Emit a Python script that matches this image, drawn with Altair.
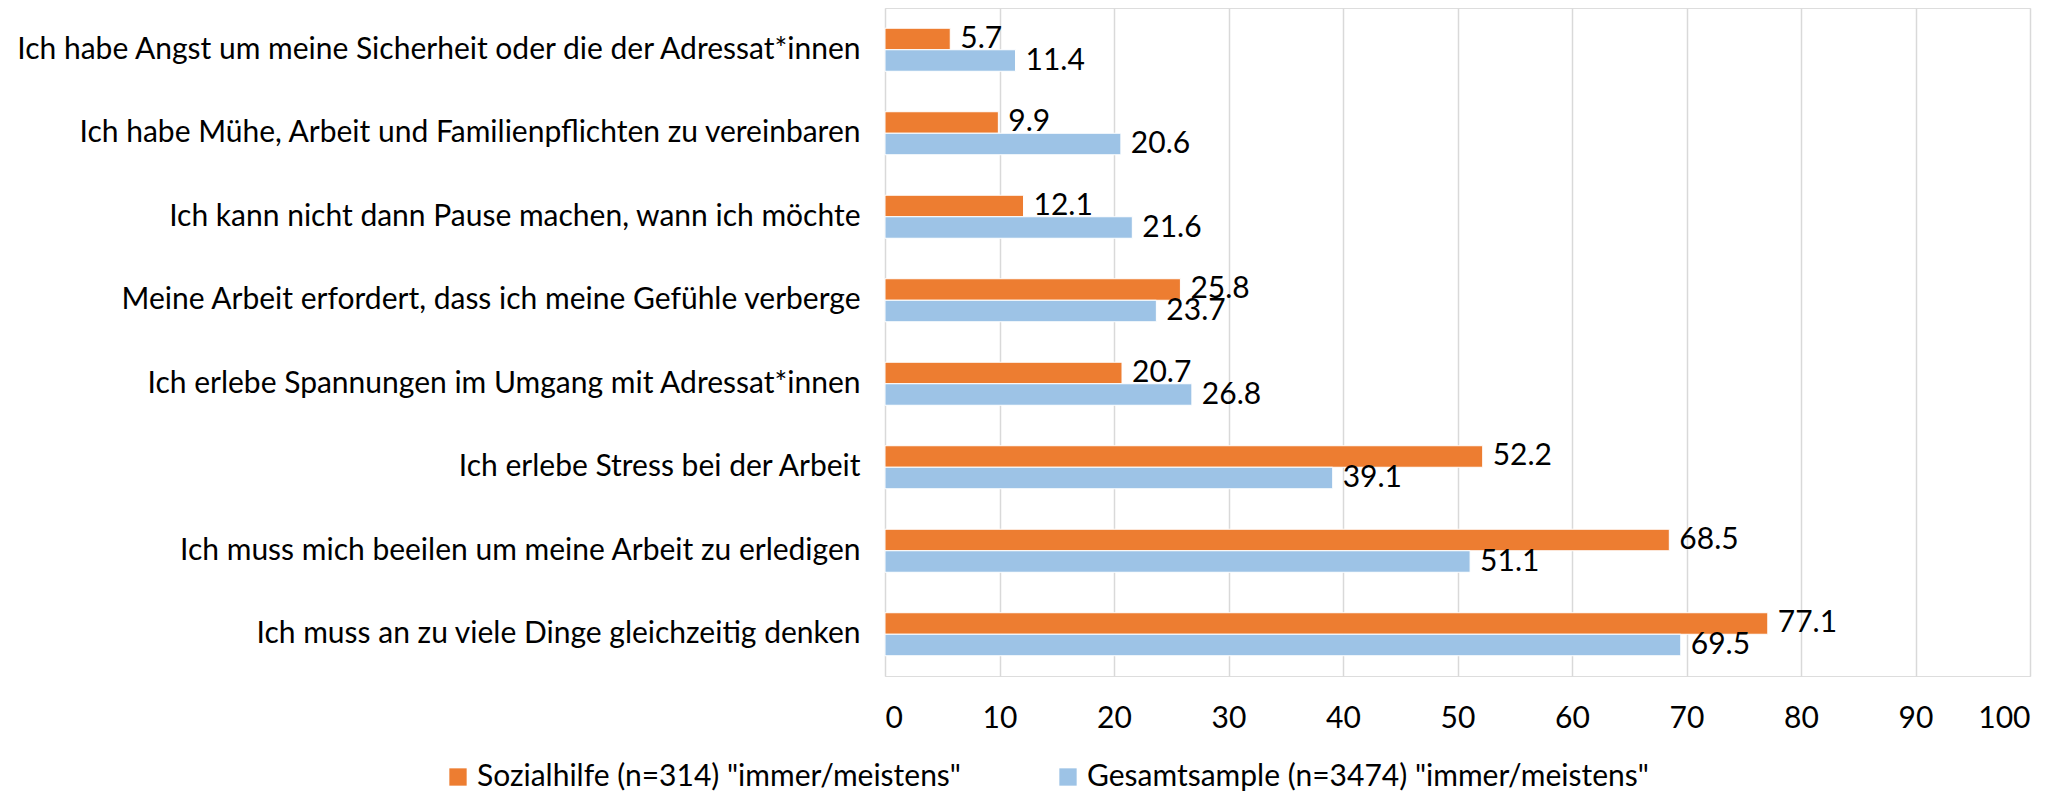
import altair as alt
import pandas as pd

categories = [
    "Ich habe Angst um meine Sicherheit oder die der Adressat*innen",
    "Ich habe Mühe, Arbeit und Familienpflichten zu vereinbaren",
    "Ich kann nicht dann Pause machen, wann ich möchte",
    "Meine Arbeit erfordert, dass ich meine Gefühle verberge",
    "Ich erlebe Spannungen im Umgang mit Adressat*innen ",
    "Ich erlebe Stress bei der Arbeit",
    "Ich muss mich beeilen um meine Arbeit zu erledigen",
    "Ich muss an zu viele Dinge gleichzeitig denken",
]
series_names = [
    'Sozialhilfe (n=314) "immer/meistens"',
    'Gesamtsample (n=3474) "immer/meistens"',
]
sozialhilfe = [5.7, 9.9, 12.1, 25.8, 20.7, 52.2, 68.5, 77.1]
gesamt = [11.4, 20.6, 21.6, 23.7, 26.8, 39.1, 51.1, 69.5]
colors = ["#ED7D31", "#9DC3E6"]
x_ticks = [0, 10, 20, 30, 40, 50, 60, 70, 80, 90, 100]

rows = []
for c, a, b in zip(categories, sozialhilfe, gesamt):
    rows.append({"cat": c, "series": series_names[0], "value": a, "label": f"{a:.1f}"})
    rows.append({"cat": c, "series": series_names[1], "value": b, "label": f"{b:.1f}"})
df = pd.DataFrame(rows)

FONT = "Lato"
FS = 30

y_enc = alt.Y("cat:N", sort=categories, title=None,
              scale=alt.Scale(paddingInner=0.485, paddingOuter=0.2425),
              axis=alt.Axis(ticks=False, domain=False, labelPadding=25,
                            labelFontSize=FS, labelColor="#000000",
                            labelFont=FONT, labelLimit=1000))
yoff = alt.YOffset("series:N", sort=series_names)

bars = alt.Chart(df).mark_bar(stroke="white", strokeWidth=1).encode(
    x=alt.X("value:Q", title=None,
            scale=alt.Scale(domain=[0, 100], nice=False),
            axis=alt.Axis(values=x_ticks, grid=True, gridColor="#D9D9D9",
                          gridWidth=1.5, domain=False, ticks=False,
                          labelPadding=27, labelFontSize=FS,
                          labelColor="#000000", labelFont=FONT)),
    y=y_enc,
    yOffset=yoff,
    color=alt.Color("series:N", sort=series_names,
                    scale=alt.Scale(domain=series_names, range=colors),
                    legend=alt.Legend(title=None, orient="none",
                                      direction="horizontal", columns=2,
                                      legendX=-442, legendY=754,
                                      symbolType="square", symbolSize=300,
                                      symbolStrokeWidth=0,
                                      labelFontSize=FS, labelFont=FONT,
                                      labelColor="#000000",
                                      columnPadding=92, labelLimit=1000)),
)

texts = alt.Chart(df).mark_text(align="left", baseline="middle", dx=10,
                                fontSize=FS, font=FONT, color="#000000").encode(
    x=alt.X("value:Q"),
    y=alt.Y("cat:N", sort=categories),
    yOffset=yoff,
    text="label:N",
)

chart = alt.layer(bars, texts).properties(
    width=1145, height=668,
    padding={"top": 0, "left": 5, "right": 5, "bottom": 0},
).configure_view(stroke=None).configure(background="white")

chart.save("out.html", embed_options={"renderer": "svg", "actions": False})
